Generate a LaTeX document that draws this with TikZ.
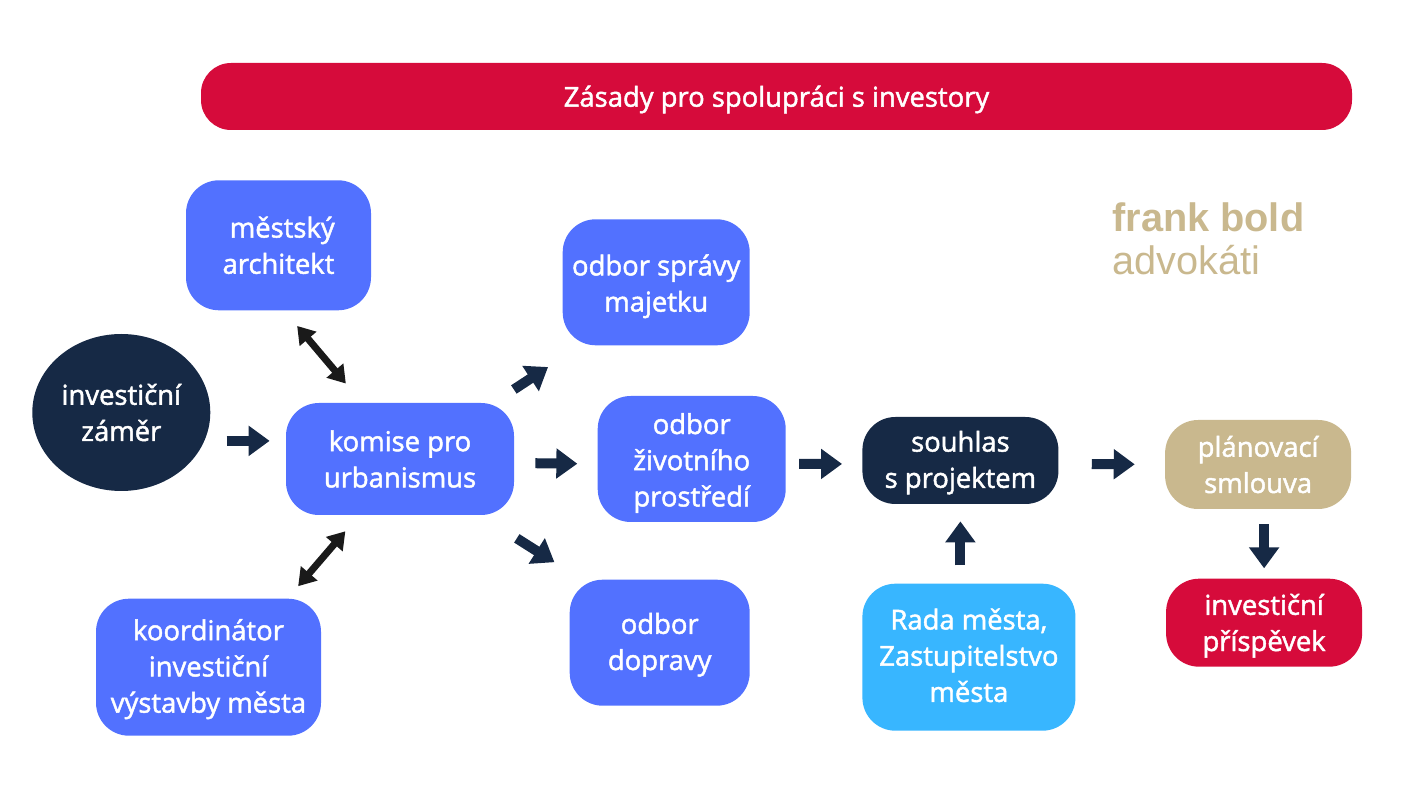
\documentclass[tikz,border=0pt]{standalone}
\usepackage{fontspec}
\setmainfont{Open Sans}
\newfontfamily\semifont[FakeBold=1.7]{Open Sans}
\newfontfamily\logofont{Liberation Sans}
\usepackage{xcolor}
\usepackage{tikz}
\usetikzlibrary{arrows.meta,positioning,calc,shapes.geometric}
\definecolor{bannerred}{RGB}{214,11,59}
\definecolor{boxblue}{RGB}{82,113,255}
\definecolor{skyblue}{RGB}{56,182,255}
\definecolor{darknavy}{RGB}{22,41,69}
\definecolor{logotan}{RGB}{201,184,142}
\definecolor{arrowblack}{RGB}{26,26,26}
\newcommand{\firstline}[1]{\rule{0pt}{#1}}

\begin{document}
\begin{tikzpicture}[
    box/.style={rectangle, rounded corners=0.66cm, fill=boxblue, text=white, inner sep=0pt, align=center,
                font=\fontsize{15.6}{20.6}\semifont},
    arr/.style={-{Triangle[length=0.42cm,width=0.58cm]}, line width=0.2cm, draw=darknavy},
    dbl/.style={{Triangle[length=0.34cm,width=0.42cm]}-{Triangle[length=0.34cm,width=0.42cm]}, line width=0.14cm, draw=arrowblack}
]
\useasboundingbox (0,0) rectangle (28.34,15.9);

\node[box, fill=bannerred, minimum width=23.02cm, minimum height=1.34cm, rounded corners=0.6cm] (banner) at (15.53,13.97) {\firstline{0.54cm}Zásady pro spolupráci s investory};

\node[box, minimum width=4.56cm, minimum height=2.24cm] (komise) at (8.0,6.72) {komise pro\\urbanismus};
\node[box, ellipse, fill=darknavy, minimum width=3.56cm, minimum height=3.14cm, left=1.5cm of komise, yshift=0.93cm] (zamer) {investiční\\záměr};
\node[box, minimum width=3.7cm, minimum height=2.6cm, above=1.84cm of komise, xshift=-2.43cm] (mestsky) {\hspace*{0.15cm}městský\\architekt};
\node[box, minimum width=4.5cm, minimum height=2.74cm, below=1.66cm of komise, xshift=-3.83cm] (koordinator) {\firstline{0.5cm}koordinátor\\investiční\\výstavby města};

\node[box, minimum width=3.76cm, minimum height=2.52cm, right=1.66cm of komise] (zivotni) {\firstline{0.58cm}odbor\\životního\\prostředí};
\node[box, minimum width=3.74cm, minimum height=2.52cm, above=1.0cm of zivotni, xshift=-0.71cm] (majetek) {\firstline{0.58cm}odbor správy\\majetku};
\node[box, minimum width=3.6cm, minimum height=2.52cm, below=1.14cm of zivotni, xshift=-0.64cm] (doprava) {\firstline{0.5cm}odbor\\dopravy};

\node[box, fill=darknavy, minimum width=3.92cm, minimum height=1.74cm, right=1.52cm of zivotni, yshift=-0.03cm] (souhlas) {\firstline{0.5cm}souhlas\\s projektem};
\node[box, fill=skyblue, minimum width=4.26cm, minimum height=2.94cm, below=1.58cm of souhlas, xshift=0.17cm] (rada) {Rada města,\\Zastupitelstvo\\města\rule[-0.08cm]{0pt}{0.08cm}};
\node[box, fill=logotan, minimum width=3.72cm, minimum height=1.78cm, right=2.12cm of souhlas, yshift=-0.08cm] (planovaci) {plánovací\\smlouva};
\node[box, fill=bannerred, minimum width=3.92cm, minimum height=1.76cm, below=1.38cm of planovaci, xshift=0.12cm] (prispevek) {\firstline{0.54cm}investiční\\příspěvek};

% logo
\node[anchor=base west, inner sep=0pt, text=logotan, font=\fontsize{22.6}{24}\logofont\bfseries] (logoa) at (22.24,11.26) {frank bold};
\node[anchor=base west, inner sep=0pt, text=logotan, font=\fontsize{22.6}{24}\logofont] (logob) at (22.24,10.40) {advokáti};

\draw[arr, shorten <=0.32cm, shorten >=0.32cm] (zamer.east |- komise.171) -- (komise.171);
\draw[arr, shorten <=0.42cm, shorten >=0.4cm] (komise.-2.5) -- (zivotni.183);
\draw[arr, shorten <=0.26cm, shorten >=0.4cm] (zivotni.-3) -- (souhlas.182);
\draw[arr, shorten <=0.66cm, shorten >=0.6cm] (souhlas.-2) -- (planovaci.west);
\draw[arr, shorten <=0.36cm, shorten >=0.34cm] (rada.north -| souhlas.south) -- (souhlas.south);
\draw[arr, shorten <=0.3cm, shorten >=0.2cm] (planovaci.south -| prispevek.north) -- (prispevek.north);
\draw[arr, shorten <=0.48cm, shorten >=0.78cm] (komise.31) -- (majetek.220.6);
\draw[arr, shorten <=0.86cm, shorten >=0.64cm] (komise.-35) -- (doprava.141);

\draw[dbl, shorten <=0.4cm, shorten >=0.5cm] (mestsky.-85) -- (komise.124);
\draw[dbl, shorten <=0.42cm, shorten >=0.32cm] (komise.234.5) -- (koordinator.41.4);
\end{tikzpicture}
\end{document}
